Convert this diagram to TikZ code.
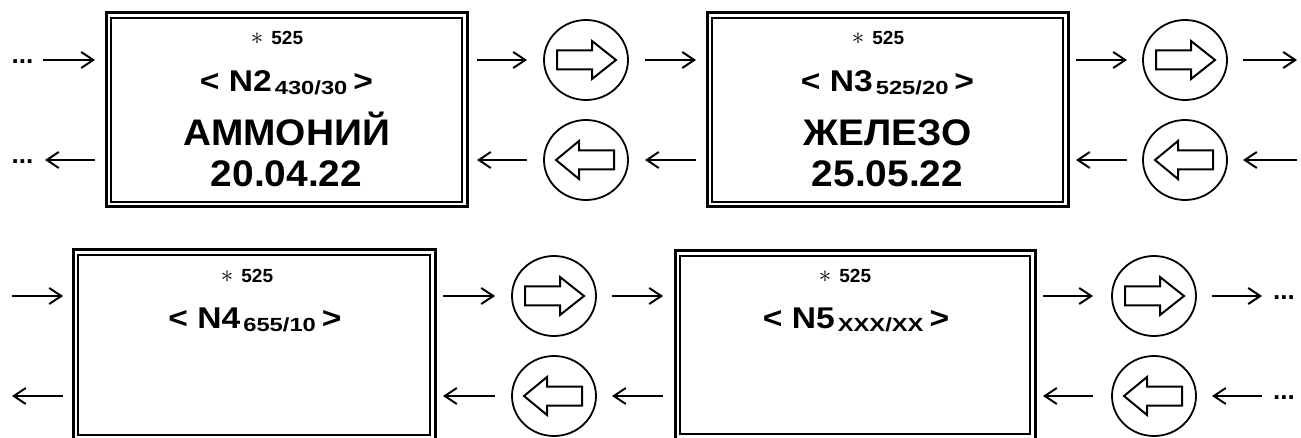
\documentclass[tikz,border=0pt]{standalone}
\usepackage{fontspec}
\setmainfont{Liberation Sans}
\usepackage{graphicx}
\usetikzlibrary{arrows.meta,shapes.geometric}
\newcommand\hsc[2]{\scalebox{#1}[1]{#2}}
\newcommand\fs[1]{\fontsize{#1}{#1}\selectfont}
\newcommand\starline{{\fs{30}$\ast$\kern8pt\fs{19}\bfseries 525}}
\newcommand\idline[2]{{\bfseries\hsc{1.12}{\fs{30}< N#1}\kern3pt\raisebox{-3pt}{\hsc{1.25}{\fs{19}#2}}\kern6pt\hsc{1.12}{\fs{30}>}}}
\newcommand\bigline[1]{{\bfseries\hsc{1.05}{\fs{37}#1}}}
\begin{document}
\begin{tikzpicture}[x=1pt,y=-1pt,
  boxo/.style={draw, line width=3pt, inner sep=0pt, outer sep=0pt},
  boxi/.style={draw, line width=1.3pt},
  circ/.style={ellipse, draw, line width=1.8pt, minimum width=84pt, minimum height=80pt, inner sep=0pt, outer sep=0pt},
  conn/.style={line width=2pt, -{Straight Barb[length=12pt,width=16pt]}},
  txt/.style={inner sep=0pt, anchor=base},
  dots/.style={inner sep=0pt, font=\bfseries\fs{26}},
  blkline/.style={draw, line width=2pt, line join=miter},
  rblk/.pic={\draw[blkline] (-29,-9.5) -- (6,-9.5) -- (6,-19) -- (30,0) -- (6,19) -- (6,9.5) -- (-29,9.5) -- cycle;},
  lblk/.pic={\draw[blkline] (28,-9.5) -- (-7,-9.5) -- (-7,-19) -- (-30,0) -- (-7,19) -- (-7,9.5) -- (28,9.5) -- cycle;}
]
\useasboundingbox (0,0) rectangle (1301,438);
\clip (0,0) rectangle (1301,438);
\fill[white] (0,0) rectangle (1301,438);

% boxes
\node[boxo, minimum width=361pt, minimum height=194pt] (b1) at (286.5,110) {};
\node[boxo, minimum width=361pt, minimum height=194pt] (b2) at (887.5,110) {};
\node[boxo, minimum width=362pt, minimum height=190pt] (b3) at (254,345) {};
\node[boxo, minimum width=360pt, minimum height=188pt] (b4) at (855,345) {};
\foreach \b in {b1,b2,b3,b4}
  \draw[boxi] ([shift={(5,5)}]\b.north west) rectangle ([shift={(-5,-5)}]\b.south east);

% texts
\node[txt] (b1s) at (277,45) {\starline};
\node[txt] (b1n) at (286.5,92) {\idline{2}{430/30}};
\node[txt] (b1a) at (286.5,146) {\bigline{АММОНИЙ}};
\node[txt] (b1d) at (286.5,187) {\bigline{20.04.22}};

\node[txt] (b2s) at (878,45) {\starline};
\node[txt] (b2n) at (887.5,92) {\idline{3}{525/20}};
\node[txt] (b2a) at (887.5,146) {\bigline{ЖЕЛЕЗО}};
\node[txt] (b2d) at (887.5,187) {\bigline{25.05.22}};

\node[txt] (b3s) at (247,283) {\starline};
\node[txt] (b3n) at (255,328) {\idline{4}{655/10}};

\node[txt] (b4s) at (845,283) {\starline};
\node[txt] (b4n) at (856,328) {\idline{5}{XXX/XX}};

% circles
\node[circ] (c1r) at (586,60) {};
\node[circ] (c1l) at (586,160) {};
\node[circ] (c2r) at (1185,60) {};
\node[circ] (c2l) at (1185,160) {};
\node[circ] (c3r) at (554,296) {};
\node[circ] (c3l) at (554,396) {};
\node[circ] (c4r) at (1154,296) {};
\node[circ] (c4l) at (1154,396) {};
\foreach \c in {c1r,c2r,c3r,c4r} \pic at (\c.center) {rblk};
\foreach \c in {c1l,c2l,c3l,c4l} \pic at (\c.center) {lblk};

% free ends
\coordinate (s1) at (43,60);
\coordinate (t1) at (45,160);
\coordinate (e1) at (1297,60);
\coordinate (e2) at (1297,160);
\coordinate (s3) at (12,296);
\coordinate (t3) at (12,396);
\coordinate (e3) at (1262,296);
\coordinate (e4) at (1262,396);
\node[dots] (d1) at (22.5,62) {...};
\node[dots] (d2) at (22.5,162) {...};
\node[dots, anchor=west] (d3) at (1273,298) {...};
\node[dots, anchor=west] (d4) at (1273,398) {...};

% top row connectors
\draw[conn, shorten >=11pt] (s1) -- (b1.west |- s1);
\draw[conn, shorten <=11pt] (b1.west |- t1) -- (t1);
\draw[conn, shorten <=10pt, shorten >=17pt] (b1.east |- c1r) -- (c1r.west);
\draw[conn, shorten <=17pt, shorten >=10pt] (c1l.west) -- (b1.east |- c1l);
\draw[conn, shorten <=17pt, shorten >=11pt] (c1r.east) -- (b2.west |- c1r);
\draw[conn, shorten <=11pt, shorten >=17pt] (b2.west |- c1l) -- (c1l.east);
\draw[conn, shorten <=8pt, shorten >=16pt] (b2.east |- c2r) -- (c2r.west);
\draw[conn, shorten <=16pt, shorten >=8pt] (c2l.west) -- (b2.east |- c2l);
\draw[conn, shorten <=16pt] (c2r.east) -- (e1);
\draw[conn, shorten >=16pt] (e2) -- (c2l.east);

% bottom row connectors
\draw[conn, shorten >=10pt] (s3) -- (b3.west |- s3);
\draw[conn, shorten <=10pt] (b3.west |- t3) -- (t3);
\draw[conn, shorten <=8pt, shorten >=17pt] (b3.east |- c3r) -- (c3r.west);
\draw[conn, shorten <=17pt, shorten >=8pt] (c3l.west) -- (b3.east |- c3l);
\draw[conn, shorten <=16pt, shorten >=12pt] (c3r.east) -- (b4.west |- c3r);
\draw[conn, shorten <=12pt, shorten >=16pt] (b4.west |- c3l) -- (c3l.east);
\draw[conn, shorten <=8pt, shorten >=19pt] (b4.east |- c4r) -- (c4r.west);
\draw[conn, shorten <=19pt, shorten >=8pt] (c4l.west) -- (b4.east |- c4l);
\draw[conn, shorten <=16pt] (c4r.east) -- (e3);
\draw[conn, shorten >=16pt] (e4) -- (c4l.east);
\end{tikzpicture}
\end{document}
